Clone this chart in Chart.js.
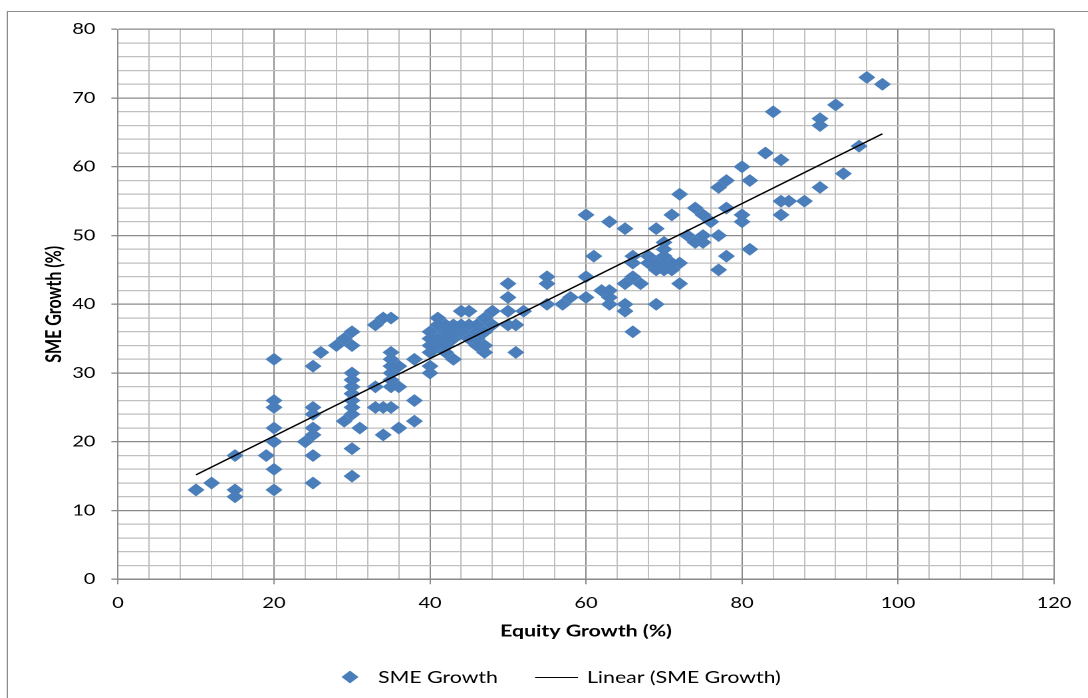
<!DOCTYPE html>
<html>
<head>
<meta charset="utf-8">
<title>SME Growth vs Equity Growth</title>
<script src="https://cdn.jsdelivr.net/npm/chart.js@4"></script>
<style>
  html, body { margin: 0; padding: 0; background: #fff; overflow: hidden; }
  #wrap { position: absolute; left: 0; top: 0; width: 818px; height: 698px; transform: scaleX(1.3301); transform-origin: 0 0; }
</style>
</head>
<body>
<div id="wrap"><canvas id="chart" width="818" height="698"></canvas></div>
<script>
// data
const equityGrowth = [
  10, 12, 15, 15, 15, 19,
  20, 20, 20, 20, 20, 20, 20,
  24, 25, 25, 25, 25, 25, 25, 25, 26, 28, 29, 29,
  30, 30, 30, 30, 30, 30, 30, 30, 30, 30, 30, 31,
  33, 33, 33, 34, 34, 34, 35, 35, 35, 35, 35, 35, 35, 35,
  36, 36, 36, 38, 38, 38,
  40, 40, 40, 40, 40, 40, 41, 41, 41, 41,
  42, 42, 42, 42, 42, 43, 43, 43, 43, 44, 44, 44,
  45, 45, 45, 46, 46, 46, 46, 47, 47, 47, 47, 48, 48,
  50, 50, 50, 50, 51, 51, 52, 55, 55, 55, 57, 58,
  60, 60, 60, 61, 62, 63, 63, 63, 63,
  65, 65, 65, 65, 66, 66, 66, 66, 67, 68, 68,
  69, 69, 69, 69, 70, 70, 70, 70, 70, 71, 71, 71,
  72, 72, 72, 73, 74, 74, 75, 75, 75, 76, 77, 77, 77,
  78, 78, 78, 80, 80, 80, 81, 81, 83, 84, 85, 85, 85, 86, 88,
  90, 90, 90, 92, 93, 95, 96, 98
];
const smeGrowth = [
  13, 14, 18, 13, 12, 18,
  32, 26, 25, 22, 20, 16, 13,
  20, 31, 25, 24, 22, 21, 18, 14, 33, 34, 35, 23,
  36, 34, 30, 29, 28, 27, 26, 25, 24, 19, 15, 22,
  37, 28, 25, 38, 25, 21, 38, 33, 32, 31, 30, 29, 28, 25,
  31, 28, 22, 32, 26, 23,
  36, 35, 34, 33, 31, 30, 38, 37, 35, 34,
  37, 36, 35, 34, 33, 37, 36, 35, 32, 39, 37, 36,
  39, 37, 35, 37, 36, 35, 34, 38, 36, 34, 33, 39, 37,
  43, 41, 39, 37, 37, 33, 39, 44, 43, 40, 40, 41,
  53, 44, 41, 47, 42, 52, 42, 41, 40,
  51, 43, 40, 39, 47, 46, 44, 36, 43, 46, 47,
  51, 46, 45, 40, 49, 48, 47, 46, 45, 53, 46, 45,
  56, 46, 43, 50, 54, 49, 53, 50, 49, 52, 57, 50, 45,
  58, 54, 47, 60, 53, 52, 58, 48, 62, 68, 61, 55, 53, 55, 55,
  67, 66, 57, 69, 59, 63, 73, 72
];
// linear trendline ends as drawn
const trendX = [10, 98];
const trendY = [15.2, 64.8];

const xTicks = [0, 20, 40, 60, 80, 100, 120];
const yTicks = [0, 10, 20, 30, 40, 50, 60, 70, 80];

const FONT = 'Lato, Carlito, "DejaVu Sans", sans-serif';
const BLUE = '#4a7ebb';
const MAJOR = '#8a8a8a';
const MINOR = '#c0c0c0';

// plot box in unstretched canvas pixels
const S = 1088 / 818;
const PLOT_LEFT = 118 / S;
const PLOT_RIGHT = 1054 / S;
const PLOT_TOP = 29.3;
const PLOT_BOTTOM = 579.3;

// 🔹 frame + legend
const framePlugin = {
  id: 'frame',
  beforeDraw(chart) {
    const ctx = chart.ctx;
    ctx.save();
    ctx.fillStyle = '#fff';
    ctx.fillRect(0, 0, chart.width, chart.height);
    ctx.strokeStyle = '#8c8c8c';
    ctx.lineWidth = 1;
    ctx.strokeRect(5.5, 11.5, chart.width + 20, chart.height + 20);
    ctx.restore();
  },
  afterDraw(chart) {
    const ctx = chart.ctx;
    const y = 677;
    ctx.save();
    // diamond
    const dx = 350 / S, r = 6.4;
    ctx.fillStyle = BLUE;
    ctx.beginPath();
    ctx.moveTo(dx - r, y);
    ctx.lineTo(dx, y - r);
    ctx.lineTo(dx + r, y);
    ctx.lineTo(dx, y + r);
    ctx.closePath();
    ctx.fill();
    // line
    ctx.strokeStyle = '#000';
    ctx.lineWidth = 1;
    ctx.beginPath();
    ctx.moveTo(535 / S, y + 0.5);
    ctx.lineTo(578 / S, y + 0.5);
    ctx.stroke();
    // text
    ctx.fillStyle = '#000';
    ctx.font = '16px ' + FONT;
    ctx.textBaseline = 'middle';
    ctx.textAlign = 'left';
    ctx.fillText(chart.data.datasets[0].label, 378 / S, y + 1);
    ctx.fillText(chart.data.datasets[1].label, 587 / S, y + 1);
    ctx.restore();
  }
};

function makeChart() {
  const points = equityGrowth.map((x, i) => ({ x: x, y: smeGrowth[i] }));
  const trend = trendX.map((x, i) => ({ x: x, y: trendY[i] }));

  new Chart(document.getElementById('chart'), {
    type: 'scatter',
    data: {
      datasets: [
        {
          label: 'SME Growth',
          data: points,
          pointStyle: 'rectRot',
          pointRadius: 6.4,
          pointHoverRadius: 6.4,
          backgroundColor: BLUE,
          borderWidth: 0,
          order: 2
        },
        {
          label: 'Linear (SME Growth)',
          type: 'line',
          data: trend,
          borderColor: '#000',
          borderWidth: 1.4,
          pointRadius: 0,
          fill: false,
          order: 1
        }
      ]
    },
    options: {
      responsive: false,
      animation: false,
      devicePixelRatio: 2,
      events: [],
      layout: { padding: { top: PLOT_TOP, right: 818 - PLOT_RIGHT, bottom: 0, left: 0 } },
      plugins: {
        legend: { display: false },
        tooltip: { enabled: false }
      },
      scales: {
        x: {
          type: 'linear',
          min: 0,
          max: 120,
          ticks: {
            stepSize: 4,
            autoSkip: false,
            maxRotation: 0,
            padding: 10,
            color: '#000',
            font: { family: FONT, size: 15 },
            callback: v => xTicks.includes(v) ? v : ''
          },
          grid: {
            color: c => c.tick && xTicks.includes(c.tick.value) ? MAJOR : MINOR,
            tickColor: c => c.tick && xTicks.includes(c.tick.value) ? MAJOR : 'rgba(0,0,0,0)',
            tickLength: 5,
            lineWidth: 1
          },
          border: { color: MAJOR, width: 1 },
          title: {
            display: true,
            text: 'Equity Growth (%)',
            color: '#000',
            font: { family: FONT, size: 16, weight: 'bold' },
            padding: { top: 0, bottom: 57 }
          },
          afterFit(scale) { scale.height = 698 - PLOT_BOTTOM; }
        },
        y: {
          type: 'linear',
          min: 0,
          max: 80,
          ticks: {
            stepSize: 2,
            autoSkip: false,
            padding: 12,
            color: '#000',
            font: { family: FONT, size: 15 },
            callback: v => yTicks.includes(v) ? v : ''
          },
          grid: {
            color: c => c.tick && yTicks.includes(c.tick.value) ? MAJOR : MINOR,
            tickColor: c => c.tick && yTicks.includes(c.tick.value) ? MAJOR : 'rgba(0,0,0,0)',
            tickLength: 5,
            lineWidth: 1.3
          },
          border: { color: MAJOR, width: 1 },
          title: {
            display: true,
            text: 'SME Growth (%)',
            color: '#000',
            font: { family: FONT, size: 16, weight: 'bold' },
            padding: { top: 31, bottom: 0 }
          },
          afterFit(scale) { scale.width = PLOT_LEFT; }
        }
      }
    },
    plugins: [framePlugin]
  });
}

// 🔹 INIT
Promise.all([
  document.fonts.load('15px Lato'),
  document.fonts.load('bold 16px Lato')
]).then(makeChart, makeChart);
</script>
</body>
</html>
